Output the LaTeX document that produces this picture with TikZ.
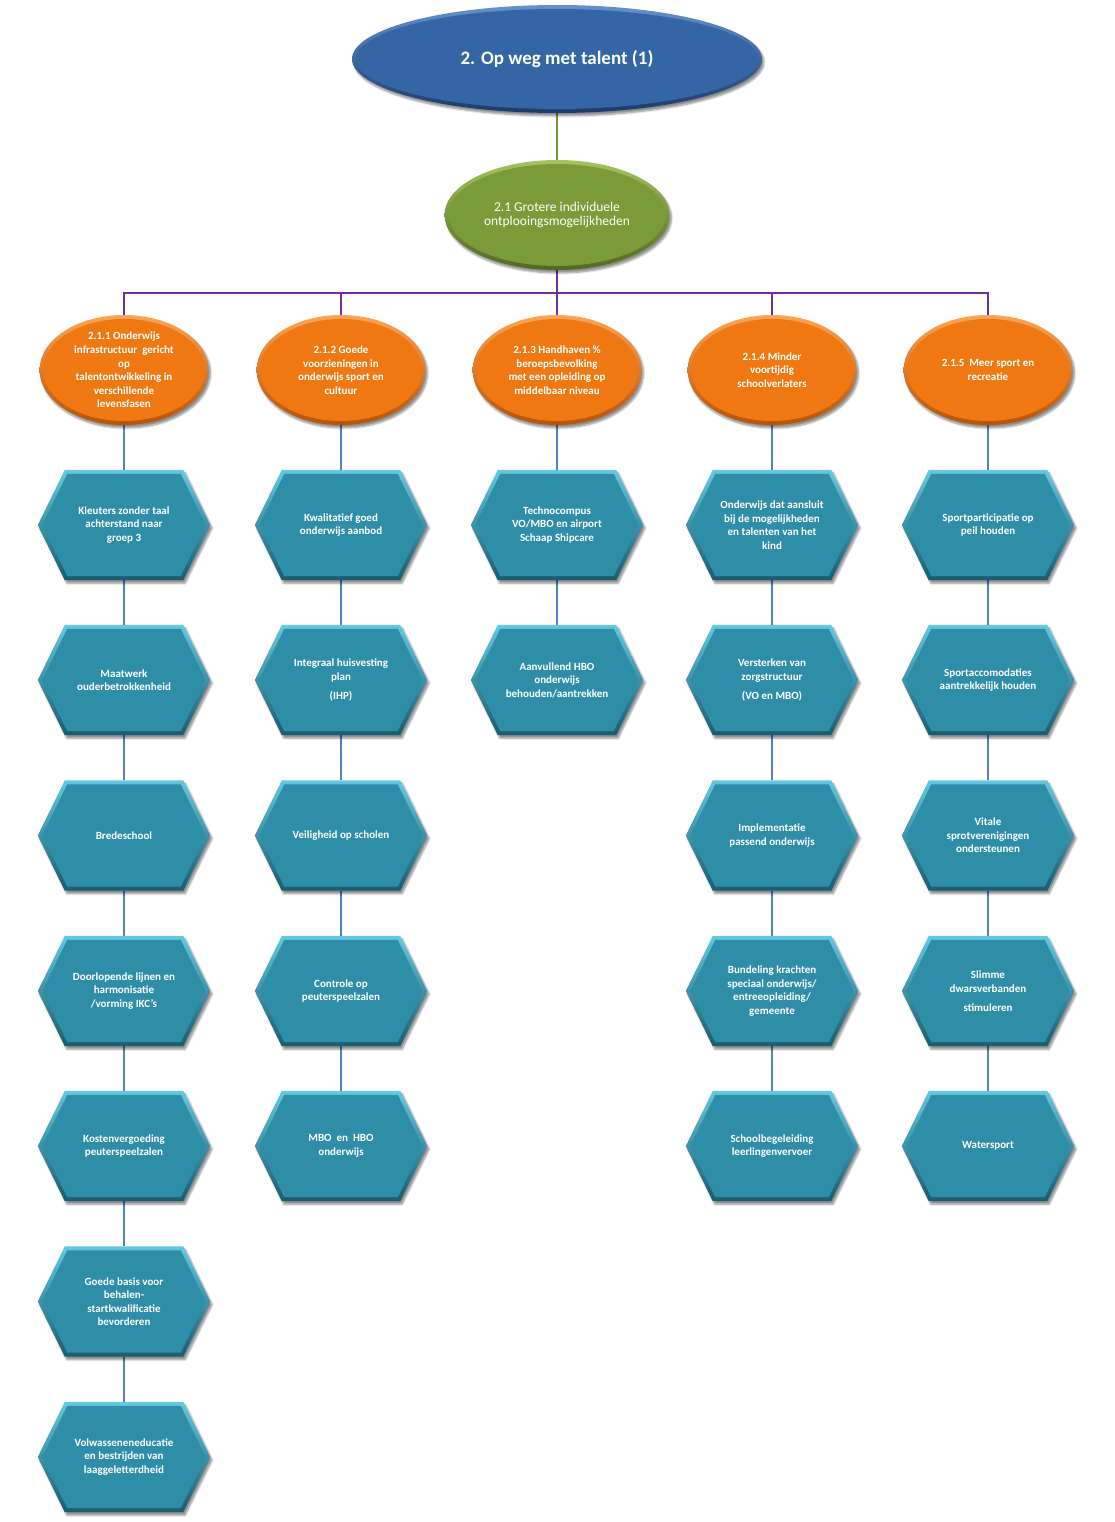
\documentclass[tikz,border=0pt]{standalone}
\usepackage{fontspec}
\setmainfont{Carlito}
\usetikzlibrary{shapes.geometric,shadows.blur}
\definecolor{blueM}{RGB}{52,101,164}
\definecolor{blueL}{RGB}{100,145,205}
\definecolor{blueD}{RGB}{28,58,105}
\definecolor{greenM}{RGB}{122,155,55}
\definecolor{greenL}{RGB}{165,195,95}
\definecolor{greenD}{RGB}{80,105,32}
\definecolor{orM}{RGB}{240,120,18}
\definecolor{orL}{RGB}{252,165,85}
\definecolor{orD}{RGB}{185,82,5}
\definecolor{tealM}{RGB}{46,142,168}
\definecolor{tealL}{RGB}{100,200,225}
\definecolor{tealD}{RGB}{25,92,112}
\definecolor{lnGreen}{RGB}{119,147,60}
\definecolor{lnPurple}{RGB}{112,48,160}
\definecolor{lnBlue}{RGB}{79,129,189}
\pgfdeclarelayer{bg}
\pgfsetlayers{bg,main}
\begin{document}
\begin{tikzpicture}[x=1pt,y=-1pt,
  sh/.style={blur shadow={shadow xshift=2pt, shadow yshift=-3pt, shadow blur steps=6, shadow opacity=45}},
  bigell/.style={ellipse, inner sep=0pt, minimum width=410pt, minimum height=108pt, top color=blueL, bottom color=blueD, sh,
    path picture={\fill[blueM] (path picture bounding box.center) ellipse [x radius=201pt, y radius=50pt];},
    text=white, font=\fontsize{19}{22}\selectfont\bfseries},
  greenell/.style={ellipse, inner sep=0pt, minimum width=225pt, minimum height=110pt, top color=greenL, bottom color=greenD, sh,
    path picture={\fill[greenM] (path picture bounding box.center) ellipse [x radius=108.5pt, y radius=51pt];},
    text=white, align=center, font=\fontsize{13.5}{14.5}\selectfont},
  orell/.style={ellipse, inner sep=0pt, minimum width=169pt, minimum height=110pt, top color=orL, bottom color=orD, sh,
    path picture={\fill[orM] (path picture bounding box.center) ellipse [x radius=81pt, y radius=51pt];},
    text=white, align=center, font=\fontsize{11}{13.6}\selectfont\bfseries},
  hexbox/.style={rectangle, inner sep=0pt, minimum width=172pt, minimum height=110pt,
    text=white, align=center, font=\fontsize{11}{13.5}\selectfont\bfseries},
  conn/.style={lnBlue, line width=2.6pt},
]
\useasboundingbox (0,0) rectangle (1115,1522);

% top levels
\node[bigell] (top) at (557,59) {2. Op weg met talent (1)};
\node[greenell] (g) at (557,215) {2.1 Grotere individuele\\ontplooingsmogelijkheden};
\coordinate (bus) at (557,293);

% orange ellipses
\node[orell] (o1) at (124,370) {2.1.1 Onderwijs\\infrastructuur\ \ gericht\\op\\talentontwikkeling in\\verschillende\\levensfasen};
\node[orell] (o2) at (341,370) {2.1.2 Goede\\voorzieningen in\\onderwijs sport en\\cultuur};
\node[orell] (o3) at (557,370) {2.1.3 Handhaven \%\\beroepsbevolking\\met een opleiding op\\middelbaar niveau};
\node[orell] (o4) at (772,370) {2.1.4 Minder\\voortijdig\\schoolverlaters};
\node[orell] (o5) at (988,370) {2.1.5\ \ Meer sport en\\recreatie};

% column 1
\node[hexbox] (a1) at (124,525) {Kleuters zonder taal\\achterstand naar\\groep 3};
\node[hexbox] (a2) at (124,680) {Maatwerk\\ouderbetrokkenheid};
\node[hexbox] (a3) at (124,835.5) {Bredeschool};
\node[hexbox] (a4) at (124,991) {Doorlopende lijnen en\\harmonisatie\\/vorming IKC's};
\node[hexbox] (a5) at (124,1146) {Kostenvergoeding\\peuterspeelzalen};
\node[hexbox] (a6) at (124,1301.5) {Goede basis voor\\behalen-\\startkwalificatie\\bevorderen};
\node[hexbox] (a7) at (124,1457) {Volwasseneneducatie\\en bestrijden van\\laaggeletterdheid};

% column 2
\node[hexbox] (b1) at (341,525) {Kwalitatief goed\\onderwijs aanbod};
\node[hexbox] (b2) at (341,680) {Integraal huisvesting\\plan\\[5.5pt](IHP)};
\node[hexbox] (b3) at (341,835.5) {Veiligheid op scholen};
\node[hexbox] (b4) at (341,991) {Controle op\\peuterspeelzalen};
\node[hexbox] (b5) at (341,1146) {MBO\ \ en\ \ HBO\\onderwijs};

% column 3
\node[hexbox] (c1) at (557,525) {Technocompus\\VO/MBO en airport\\Schaap Shipcare};
\node[hexbox] (c2) at (557,680) {Aanvullend HBO\\onderwijs\\behouden/aantrekken};

% column 4
\node[hexbox] (d1) at (772,525) {Onderwijs dat aansluit\\bij de mogelijkheden\\en talenten van het\\kind};
\node[hexbox] (d2) at (772,680) {Versterken van\\zorgstructuur\\[5.5pt](VO en MBO)};
\node[hexbox] (d3) at (772,835.5) {Implementatie\\passend onderwijs};
\node[hexbox] (d4) at (772,991) {Bundeling krachten\\speciaal onderwijs/\\entreeopleiding/\\gemeente};
\node[hexbox] (d5) at (772,1146) {Schoolbegeleiding\\leerlingenvervoer};

% column 5
\node[hexbox] (e1) at (988,525) {Sportparticipatie op\\peil houden};
\node[hexbox] (e2) at (988,680) {Sportaccomodaties\\aantrekkelijk houden};
\node[hexbox] (e3) at (988,835.5) {Vitale\\sprotverenigingen\\ondersteunen};
\node[hexbox] (e4) at (988,991) {Slimme\\dwarsverbanden\\[5.5pt]stimuleren};
\node[hexbox] (e5) at (988,1146) {Watersport};

\begin{pgfonlayer}{bg}
  % connectors
  \draw[lnGreen, line width=2.2pt] (top.south) -- (g.north);
  \draw[lnPurple, line width=2.6pt] (g.south) -- (bus);
  \draw[lnPurple, line width=2.6pt] (o1.north) -- (o1.north |- bus) -- (o5.north |- bus) -- (o5.north);
  \foreach \o in {o2,o3,o4}{
    \draw[lnPurple, line width=2.6pt] (\o.north |- bus) -- (\o.north);
  }
  \draw[conn] (o1.south) -- (a1.north);
  \draw[conn] (a1) -- (a2); \draw[conn] (a2) -- (a3); \draw[conn] (a3) -- (a4);
  \draw[conn] (a4) -- (a5); \draw[conn] (a5) -- (a6); \draw[conn] (a6) -- (a7);
  \draw[conn] (o2.south) -- (b1.north);
  \draw[conn] (b1) -- (b2); \draw[conn] (b2) -- (b3); \draw[conn] (b3) -- (b4); \draw[conn] (b4) -- (b5);
  \draw[conn] (o3.south) -- (c1.north);
  \draw[conn] (c1) -- (c2);
  \draw[conn] (o4.south) -- (d1.north);
  \draw[conn] (d1) -- (d2); \draw[conn] (d2) -- (d3); \draw[conn] (d3) -- (d4); \draw[conn] (d4) -- (d5);
  \draw[conn] (o5.south) -- (e1.north);
  \draw[conn] (e1) -- (e2); \draw[conn] (e2) -- (e3); \draw[conn] (e3) -- (e4); \draw[conn] (e4) -- (e5);

  % hexagon shapes
  \foreach \n in {a1,a2,a3,a4,a5,a6,a7,b1,b2,b3,b4,b5,c1,c2,d1,d2,d3,d4,d5,e1,e2,e3,e4,e5}{
    \shade[top color=tealL, bottom color=tealD, sh]
      (\n.west) -- ([xshift=27pt]\n.north west) -- ([xshift=-27pt]\n.north east)
      -- (\n.east) -- ([xshift=-27pt]\n.south east) -- ([xshift=27pt]\n.south west) -- cycle;
    \fill[tealM]
      ([xshift=4.5pt]\n.west) -- ([xshift=29.5pt,yshift=-4pt]\n.north west) -- ([xshift=-29.5pt,yshift=-4pt]\n.north east)
      -- ([xshift=-4.5pt]\n.east) -- ([xshift=-29.5pt,yshift=4pt]\n.south east) -- ([xshift=29.5pt,yshift=4pt]\n.south west) -- cycle;
  }
\end{pgfonlayer}
\end{tikzpicture}
\end{document}
